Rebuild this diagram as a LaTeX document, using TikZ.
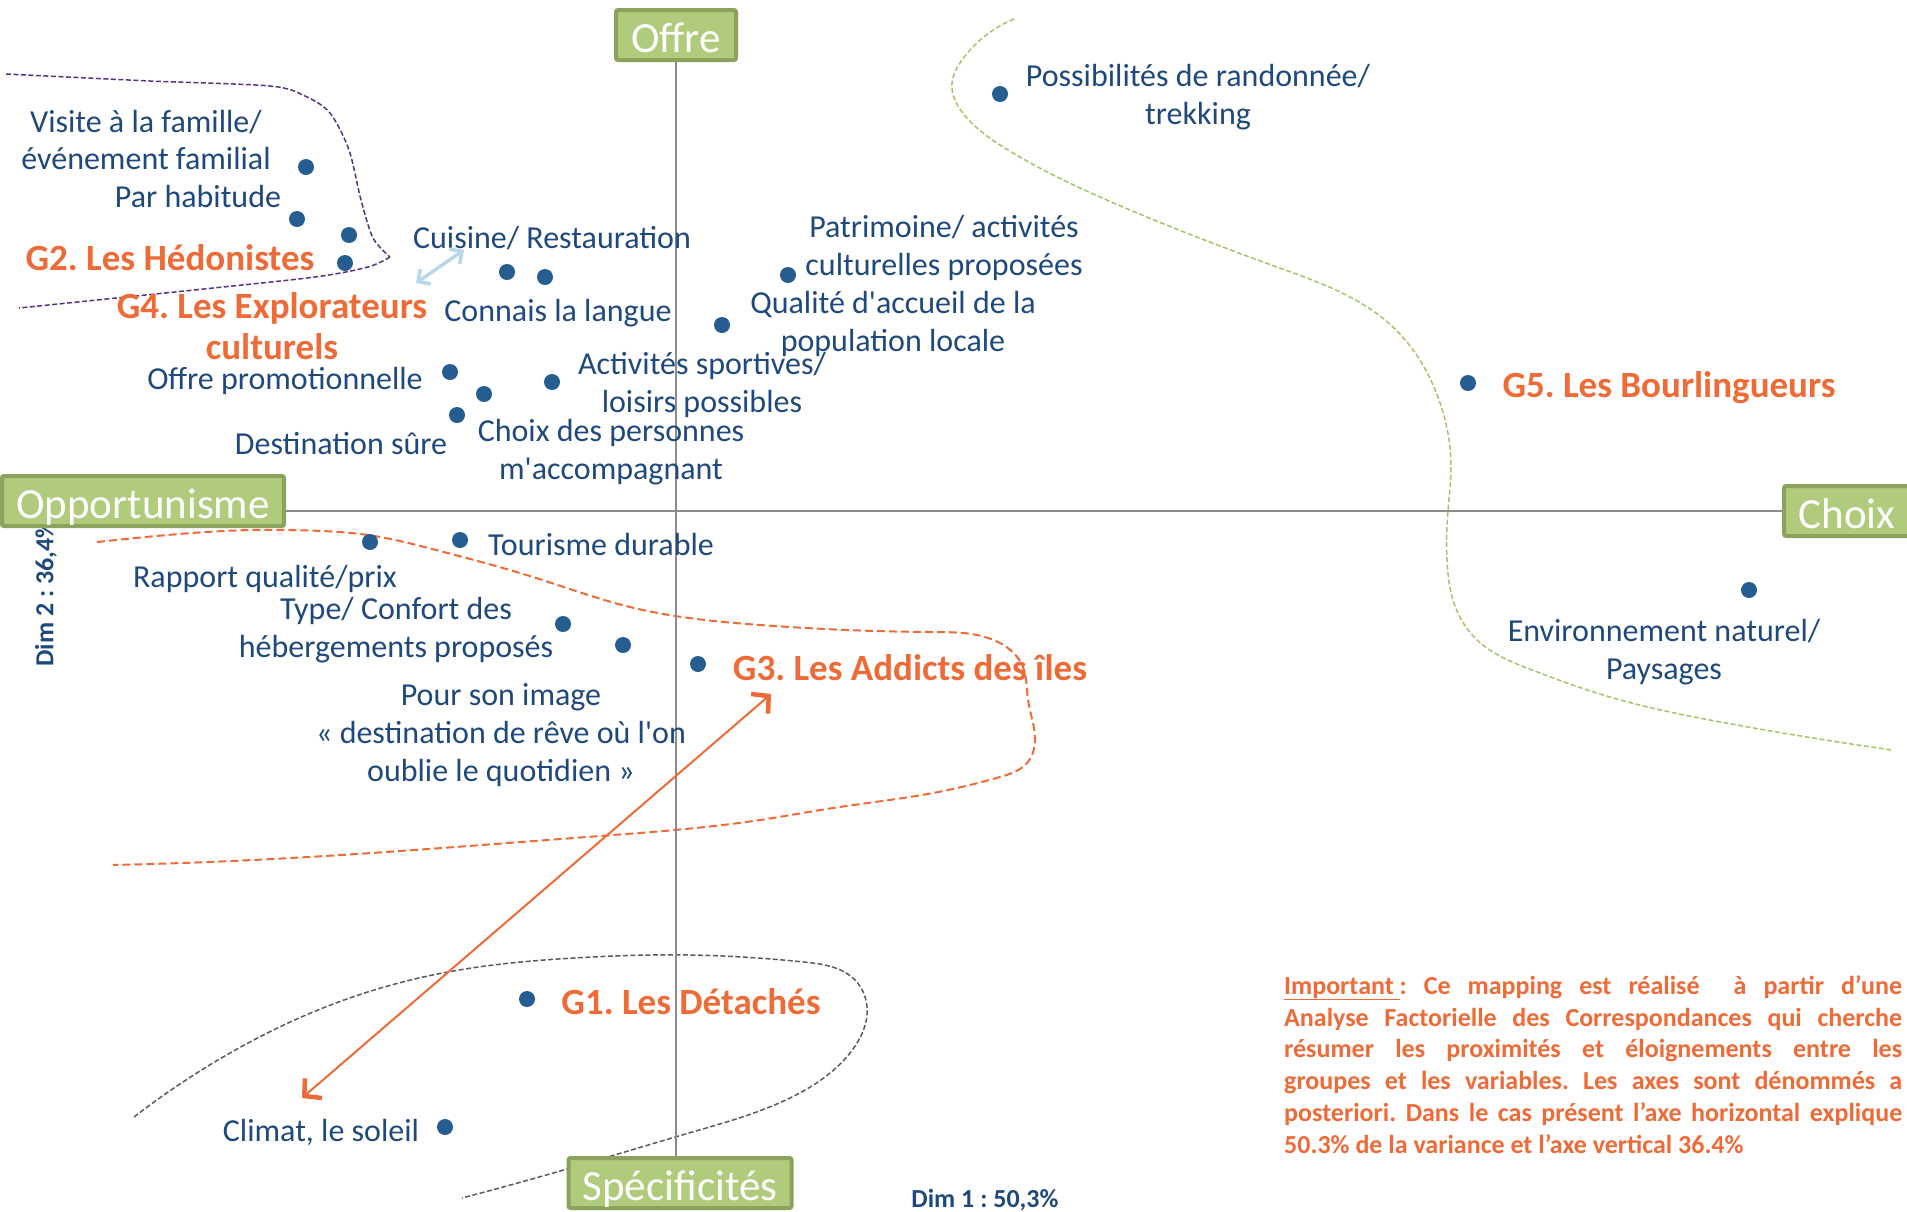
\documentclass[tikz,border=0pt]{standalone}
\usepackage{fontspec}
\setmainfont{Carlito}
\usepackage{xcolor}
\usepackage{tikz}
\usetikzlibrary{calc, hobby, arrows.meta}

\definecolor{txtblue}{RGB}{31,73,125}
\definecolor{dotblue}{RGB}{38,93,145}
\definecolor{grporange}{RGB}{238,107,56}
\definecolor{boxfill}{RGB}{176,203,124}
\definecolor{boxdraw}{RGB}{139,163,92}
\definecolor{hedonpurple}{RGB}{84,50,140}
\definecolor{arrowblue}{RGB}{182,215,232}
\definecolor{bourlgreen}{RGB}{165,196,106}
\definecolor{detachgray}{RGB}{90,90,90}
\definecolor{axisgray}{RGB}{140,140,140}

\frenchspacing

\begin{document}
\begin{tikzpicture}[x = 1pt, y = -1pt,
		dot/.style = {circle, fill = dotblue, minimum size = 16pt, inner sep = 0pt},
		lbl/.style = {text = txtblue, font = \fontsize{32}{37.7}\selectfont, align = center, inner sep = 0pt},
		grp/.style = {text = grporange, font = \fontsize{37}{41}\selectfont\bfseries, align = center, inner sep = 0pt},
		dimlbl/.style = {text = txtblue, font = \fontsize{26}{31}\selectfont\bfseries, inner sep = 0pt},
		axisbox/.style = {fill = boxfill, draw = boxdraw, line width = 4pt, rounded corners = 2pt, text = white, font = \fontsize{43}{49}\selectfont, minimum height = 50pt, inner sep = 0pt, text height = 36pt, text depth = 2pt},
		groupline/.style = {use Hobby shortcut, line width = 1.5pt}
	]
	\useasboundingbox (0,0) rectangle (1907,1211);

	\draw [hedonpurple, line width = 1.5pt, dash pattern = on 5pt off 2.5pt] plot [smooth, tension = 0.5] coordinates {(6,74) (150,81) (270,86) (305,96) (330,113) (349,150) (361,200) (373,238) (390,257)};
	\draw [hedonpurple, line width = 1.5pt, dash pattern = on 5pt off 2.5pt] plot [smooth, tension = 0.5] coordinates {(390,257) (368,267) (315,277) (194,290) (19,308)};

	\draw [groupline, grporange, line width = 2pt, dash pattern = on 8pt off 4pt] (97,542) .. (291,530) .. (368,535) .. (436,550) .. (533,577) .. (630,607) .. (760,625) .. (933,632) .. (1000,643) .. (1023,667) .. (1028,700) .. (1035,740) .. (1027,763) .. (1000,777) .. (933,793) .. (833,808) .. (760,820) .. (600,836) .. (400,851) .. (291,858) .. (113,865);

	\draw [groupline, bourlgreen, dash pattern = on 5pt off 2.5pt] (1014,19) .. (962,60) .. (952,83) .. (966,117) .. (1008,150) .. (1123,207) .. (1277,267) .. (1393,327) .. (1439,400) .. (1451,467) .. (1448,510) .. (1447,560) .. (1453,600) .. (1474,637) .. (1532,670) .. (1610,697) .. (1726,723) .. (1892,750);

	\draw [groupline, detachgray, dash pattern = on 5pt off 2.5pt] (134,1117) .. (230,1053) .. (344,1000) .. (459,970) .. (574,958) .. (689,955) .. (804,962) .. (855,980) .. (867,1007) .. (850,1053) .. (792,1097) .. (689,1133) .. (574,1167) .. (462,1198);

	\node [dimlbl, rotate = 90] (dimtwo) at (46,593) {Dim 2 : 36,4\%};
	\node [dimlbl, anchor = base] (dimone) at (985,1207) {Dim 1 : 50,3\%};

	\node [axisbox, minimum width = 120pt] (offre) at (676,35) {Offre};
	\node [axisbox, minimum width = 282pt] (opport) at (143,501) {Opportunisme};
	\node [axisbox, minimum width = 126pt] (choix) at (1847,511) {Choix};
	\node [axisbox, minimum width = 223pt] (specif) at (680,1183) {Spécificités};

	\begin{scope}[axisgray, line width = 2.5pt]
		\draw (opport.east |- choix.west) -- (choix.west);
		\draw (offre.south) -- (offre.south |- specif.north);
	\end{scope}

	\foreach \x/\y [count = \n] in {306/167, 297/219, 349/235, 345/263, 507/272, 545/277, 788/275, 722/325, 450/372, 484/394, 552/382, 457/415, 1000/94, 1468/383, 370/542, 460/540, 563/624, 623/645, 698/664, 1749/590, 527/999, 445/1127}
	{
		\node [dot] (d\n) at (\x,\y) {};
	}

	\node [lbl] (famille) at (146,140) {Visite à la famille/\\événement familial};
	\node [lbl] (habitude) at (198,197) {Par habitude};
	\node [grp] (hedon) at (170,258) {G2. Les Hédonistes};
	\node [grp] (explo) at (272,326) {G4. Les Explorateurs\\culturels};
	\node [lbl] (cuisine) at (552,238) {Cuisine/ Restauration};
	\node [lbl] (langue) at (558,313) {Connais la langue};
	\node [lbl] (patri) at (944,248) {Patrimoine/ activités\\culturelles proposées};
	\node [lbl] (accueil) at (893,324) {Qualité d\textquotesingle accueil de la\\population locale};
	\node [lbl] (promo) at (285,381) {Offre promotionnelle};
	\node [lbl] (sport) at (702,385) {Activités sportives/\\loisirs possibles};
	\node [lbl] (sure) at (341,444) {Destination sûre};
	\node [lbl] (choixpers) at (611,452) {Choix des personnes\\m\textquotesingle accompagnant};
	\node [lbl] (rando) at (1198,97) {Possibilités de randonnée/\\trekking};
	\node [grp] (bourl) at (1669,388) {G5. Les Bourlingueurs};
	\node [lbl] (durable) at (601,544) {Tourisme durable};
	\node [lbl] (prix) at (265,579) {Rapport qualité/prix};
	\node [lbl] (confort) at (396,630) {Type/ Confort des\\hébergements proposés};
	\node [grp] (addicts) at (910,668) {G3. Les Addicts des îles};
	\node [lbl] (image) at (501,735) {Pour son image\\« destination de rêve où l\textquotesingle on\\oublie le quotidien »};
	\node [lbl] (nature) at (1664,652) {Environnement naturel/\\Paysages};
	\node [grp] (detach) at (691,1002) {G1. Les Détachés};
	\node [lbl] (climat) at (321,1132) {Climat, le soleil};

	\coordinate (explarr) at (416,283);
	\coordinate (cuisarr) at (464,250);
	\draw [arrowblue, line width = 3.5pt, {Straight Barb[length = 9pt, width = 18pt]}-{Straight Barb[length = 9pt, width = 18pt]}] (explarr) -- (cuisarr);

	\coordinate (climarr) at (302,1098);
	\coordinate (addarr) at (771,694);
	\draw [grporange, line width = 2pt, {Straight Barb[length = 12pt, width = 26pt, line width = 4.5pt]}-{Straight Barb[length = 12pt, width = 26pt, line width = 4.5pt]}] (climarr) -- (addarr);

	\node [text = grporange, font = \fontsize{26}{31.9}\selectfont\bfseries, text width = 618pt, align = justify, inner sep = 0pt, anchor = north west] (note) at (1284,975) {\hyphenpenalty=10000\emergencystretch=20pt\underline{Important\ }: Ce mapping est réalisé \ à partir d’une\linebreak Analyse Factorielle des Correspondances qui cherche\linebreak résumer les proximités et éloignements entre les\linebreak groupes et les variables. Les axes sont dénommés a\linebreak posteriori. Dans le cas présent l’axe horizontal explique\linebreak 50.3\% de la variance et l’axe vertical 36.4\%};
\end{tikzpicture}
\end{document}
